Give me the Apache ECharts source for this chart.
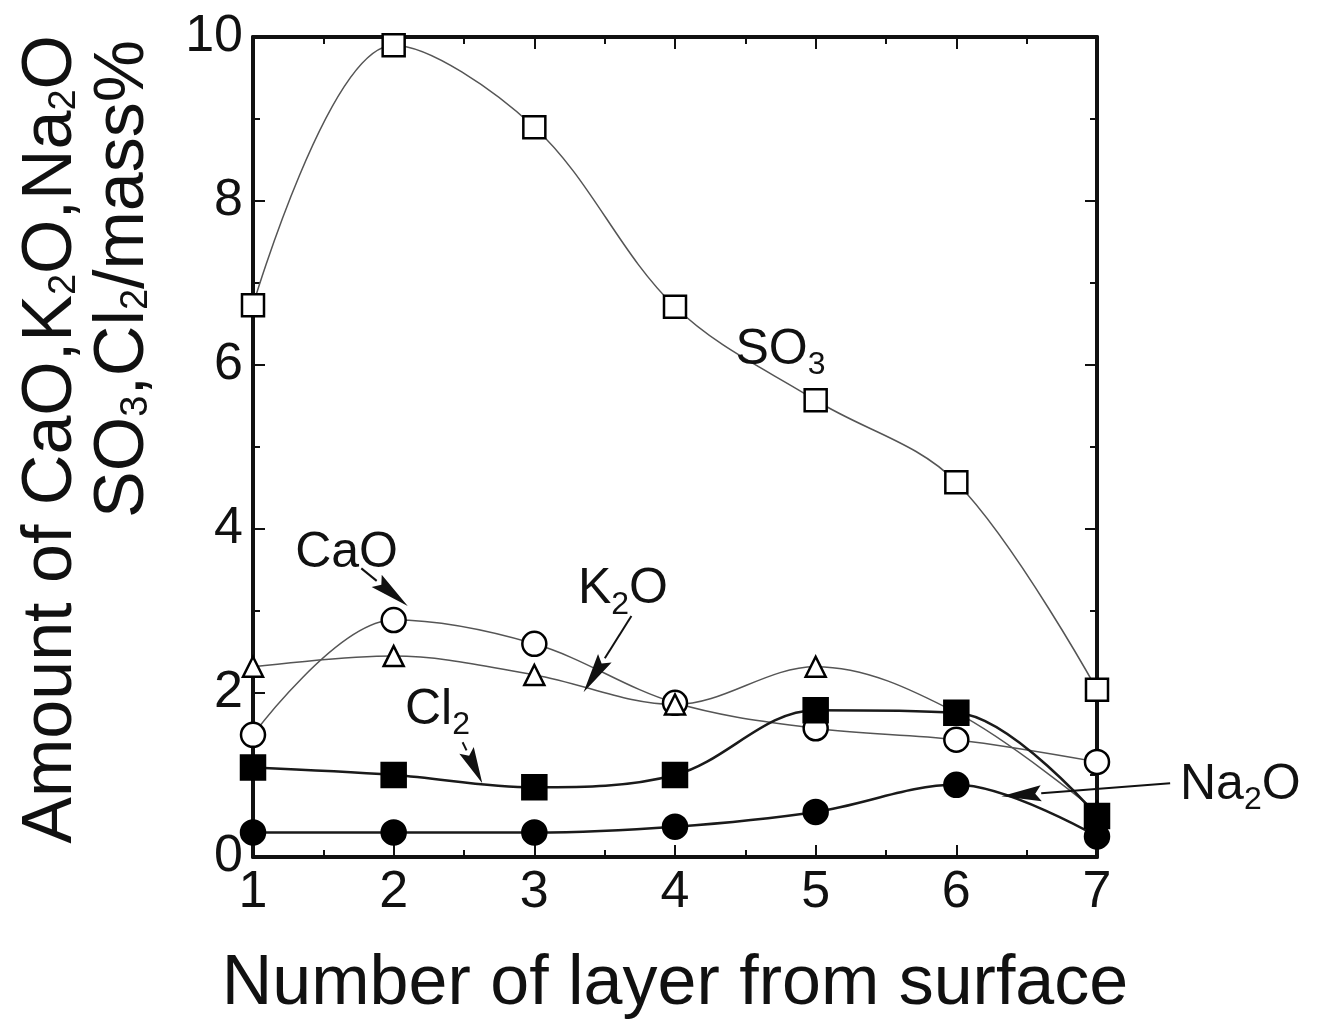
<!DOCTYPE html>
<html>
<head>
<meta charset="utf-8">
<script src="https://cdn.jsdelivr.net/npm/echarts@6/dist/echarts.min.js"></script>
<style>
  html, body { margin: 0; padding: 0; background: #fff; }
  #chart { width: 1331px; height: 1019px; }
</style>
</head>
<body>
<div id="chart"></div>
<script>
// values (mass%)
const layers = [1, 2, 3, 4, 5, 6, 7];
const so3 = [6.73, 9.9, 8.9, 6.71, 5.57, 4.57, 2.04];
const cao = [1.49, 2.89, 2.6, 1.88, 1.57, 1.43, 1.16];
const k2o = [2.32, 2.45, 2.22, 1.86, 2.32, 1.76, 0.55];
const cl2 = [1.09, 1.0, 0.85, 1.0, 1.79, 1.76, 0.5];
const na2o = [0.3, 0.3, 0.3, 0.37, 0.55, 0.88, 0.25];
const yTicks = [0, 2, 4, 6, 8, 10];

const FONT = 'Liberation Sans, Arial, sans-serif';
const INK = '#111';

// label texts and where they sit (data units), arrows tail -> tip
const notes = [
  { text: 'SO{s|3}', at: [4.43, 6.18] },
  { text: 'CaO', at: [1.30, 3.71] },
  { text: 'K{s|2}O', at: [3.31, 3.26] },
  { text: 'Cl{s|2}', at: [2.08, 1.79] },
  { text: 'Na{s|2}O', at: [7.59, 0.88] },
];
const arrows = [
  { from: [1.77, 3.52], to: [2.10, 3.06] },
  { from: [3.69, 2.94], to: [3.35, 2.01] },
  { from: [2.49, 1.40], to: [2.63, 0.90] },
  { from: [7.52, 0.90], to: [6.32, 0.74] },
];

const chart = echarts.init(document.getElementById('chart'));

function line(name, vals, symbol, filled, size, width) {
  return {
    name, type: 'line', smooth: 0.35, clip: false,
    data: layers.map((x, i) => [x, vals[i]]),
    symbol, symbolSize: size, showAllSymbol: true,
    lineStyle: { color: filled ? '#1a1a1a' : '#555', width },
    itemStyle: { color: filled ? '#000' : '#fff', borderColor: '#000', borderWidth: 2.5 },
    z: filled ? 4 : 3,
  };
}

function axisBase(pos, labels) {
  return {
    type: 'value', position: pos,
    axisLine: { show: true, onZero: false, lineStyle: { color: INK, width: 4 } },
    axisTick: { show: true, inside: true, length: 12, lineStyle: { color: INK, width: 2 } },
    minorTick: { show: true, splitNumber: 2, length: 7, lineStyle: { color: INK, width: 2 } },
    splitLine: { show: false },
    axisLabel: { show: labels, color: INK, fontSize: 52, fontFamily: FONT, margin: 10 },
  };
}

const sub = { fontSize: 32, fontFamily: FONT, color: INK, padding: [30, 0, 0, 0] };
const bigSub = { fontSize: 38, fontFamily: FONT, color: INK, padding: [26, 0, 0, 0] };

chart.setOption({
  animation: false,
  backgroundColor: '#fff',
  textStyle: { fontFamily: FONT, color: INK },
  grid: { left: 253, right: 234, top: 37, bottom: 162, outerBoundsMode: 'none' },
  xAxis: [
    Object.assign(axisBase('bottom', true), {
      min: 1, max: 7, interval: 1,
      name: 'Number of layer from surface', nameLocation: 'middle', nameGap: 93,
      nameTextStyle: { fontSize: 70, fontFamily: FONT, color: INK },
    }),
    Object.assign(axisBase('top', false), { min: 1, max: 7, interval: 1 }),
  ],
  yAxis: [
    Object.assign(axisBase('left', true), { min: 0, max: 10, interval: 2,
      axisLabel: { color: INK, fontSize: 52, fontFamily: FONT, margin: 10,
        customValues: yTicks } }),
    Object.assign(axisBase('right', false), { min: 0, max: 10, interval: 2 }),
  ],
  series: [
    line('SO3', so3, 'rect', false, 22, 1.5),
    line('CaO', cao, 'circle', false, 24, 1.5),
    line('K2O', k2o, 'triangle', false, 20, 1.5),
    line('Cl2', cl2, 'rect', true, 24, 2.5),
    line('Na2O', na2o, 'circle', true, 24, 2.5),
  ],
});

// annotations placed through the axes' own scale
const px = (p) => chart.convertToPixel({ xAxisIndex: 0, yAxisIndex: 0 }, p);
const g = [];
notes.forEach((n) => {
  const [x, y] = px(n.at);
  g.push({ type: 'text', x, y, z: 10,
    style: { text: n.text, fontSize: 50, fontFamily: FONT, fill: INK,
      align: 'left', verticalAlign: 'middle', rich: { s: sub } } });
});
arrows.forEach((a) => {
  const [x0, y0] = px(a.from);
  const [x1, y1] = px(a.to);
  const len = Math.hypot(x1 - x0, y1 - y0);
  const ux = (x1 - x0) / len, uy = (y1 - y0) / len;
  const head = Math.min(40, len * 0.8), w = 8;
  const bx = x1 - ux * head, by = y1 - uy * head;
  g.push({ type: 'line', z: 10, shape: { x1: x0, y1: y0, x2: bx, y2: by },
    style: { stroke: INK, lineWidth: 2 } });
  g.push({ type: 'polygon', z: 10,
    shape: { points: [[x1, y1], [bx - uy * w, by + ux * w], [bx + ux * 6, by + uy * 6], [bx + uy * w, by - ux * w]] },
    style: { fill: INK } });
});
// two-line y axis title, read bottom to top, both lines ending at the top
g.push({ type: 'text', x: 52, y: 35, rotation: Math.PI / 2,
  style: { text: 'Amount of CaO,K{s|2}O,Na{s|2}O', fontSize: 70, fontFamily: FONT, fill: INK,
    align: 'right', verticalAlign: 'middle', rich: { s: bigSub } } });
g.push({ type: 'text', x: 124, y: 40, rotation: Math.PI / 2,
  style: { text: 'SO{s|3},Cl{s|2}/mass%', fontSize: 70, fontFamily: FONT, fill: INK,
    align: 'right', verticalAlign: 'middle', rich: { s: bigSub } } });
chart.setOption({ graphic: g });
</script>
</body>
</html>
